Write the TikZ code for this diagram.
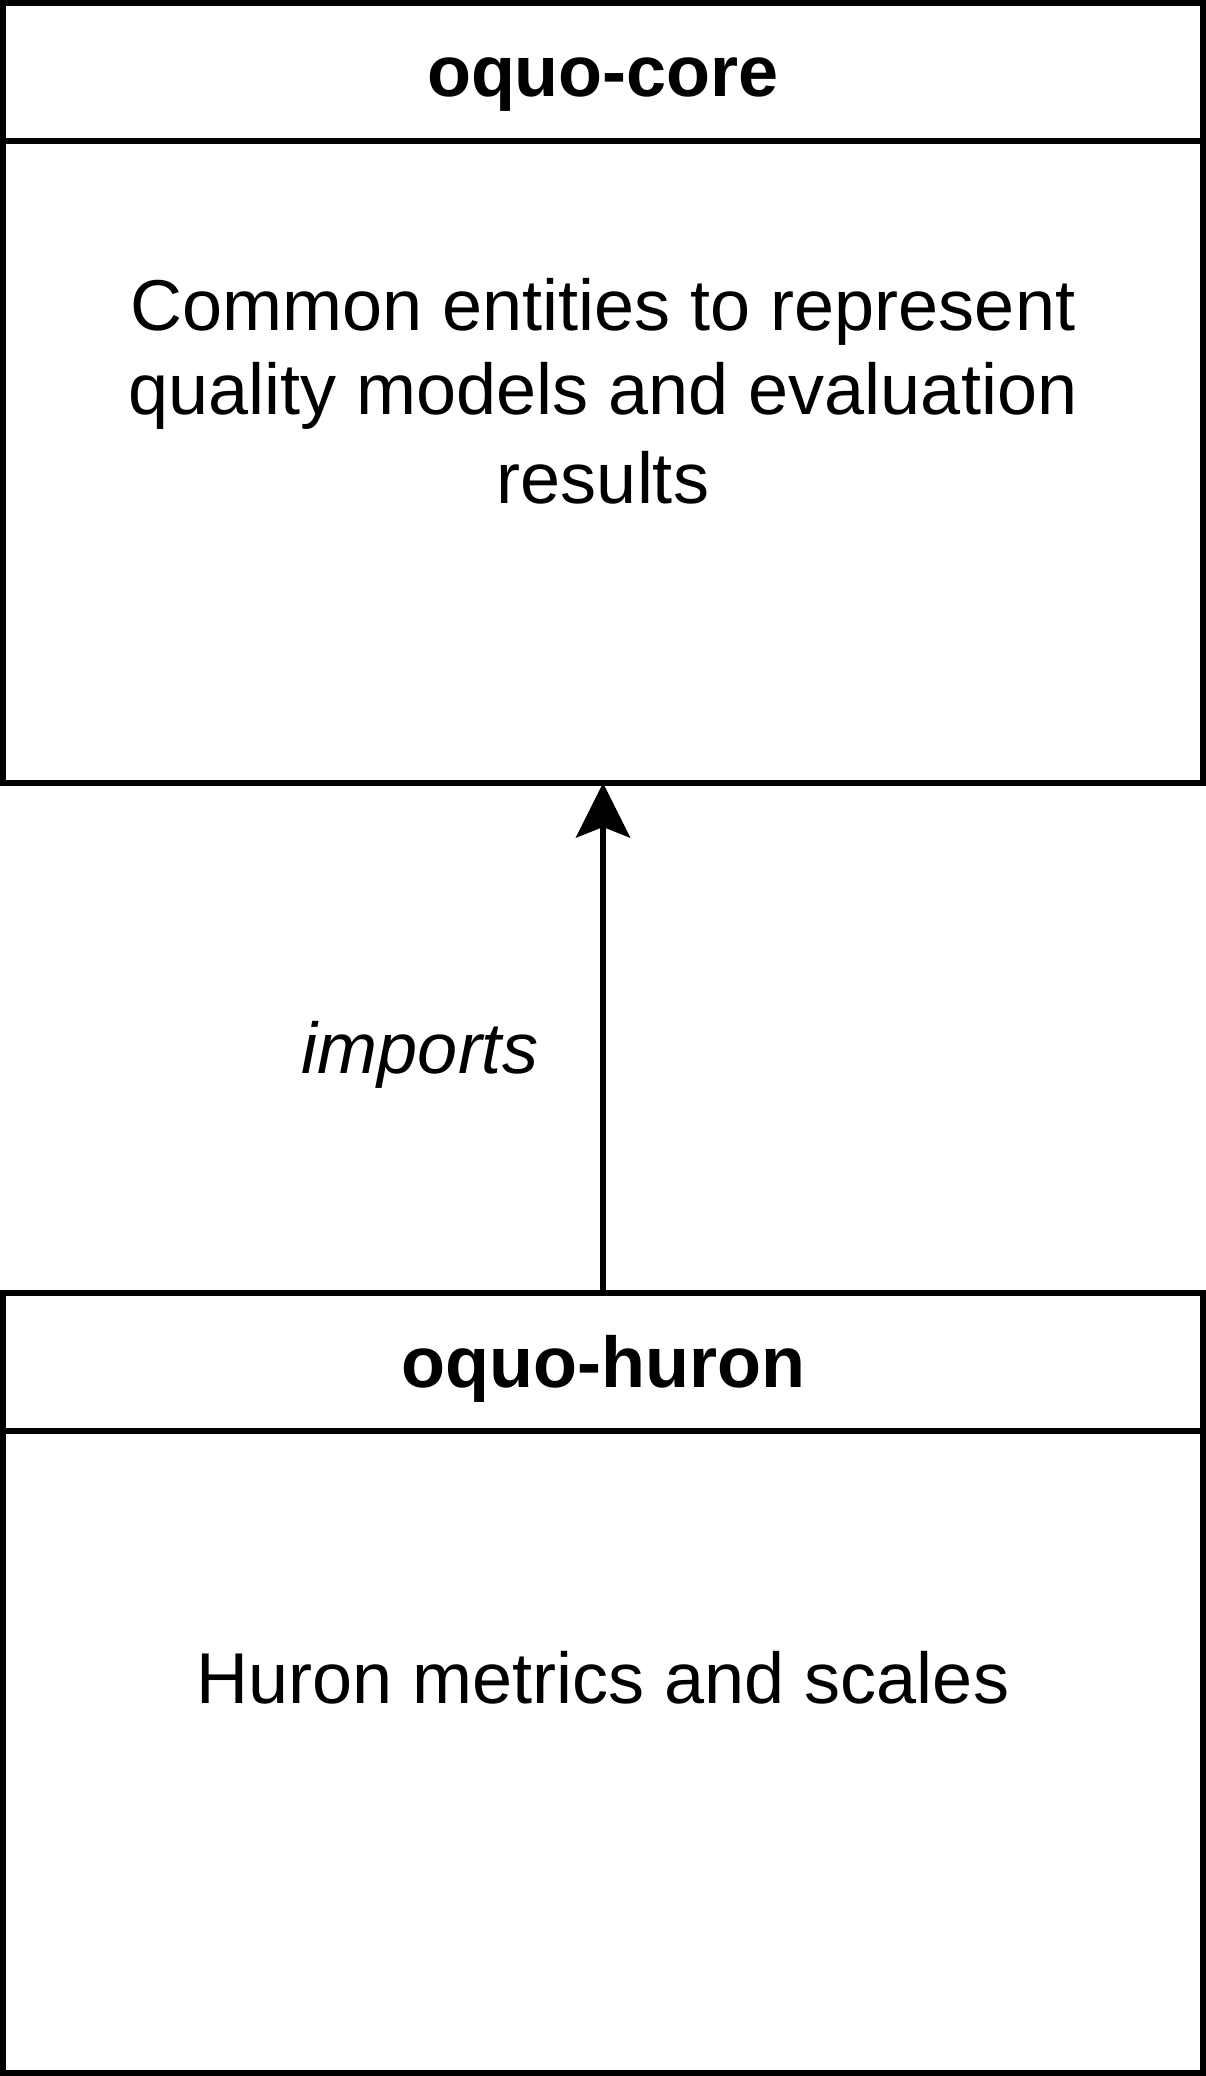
\documentclass[tikz,border=0pt]{standalone}
\usepackage{fontspec}
\setmainfont{Liberation Sans}
\usetikzlibrary{arrows.meta,calc}
\tikzset{
  pkgbox/.style={draw=black, line width=6pt, fill=white, rectangle, minimum width=1200pt, inner sep=0pt, outer sep=0pt},
  divider/.style={draw=black, line width=6pt},
  bigtext/.style={font=\fontsize{72}{86.4}\selectfont, inner sep=0pt, anchor=base},
  conn/.style={draw=black, line width=6pt, -{Stealth[length=55pt, width=55pt, inset=11pt, line width=0pt]}},
}
\begin{document}
\begin{tikzpicture}[x=1pt, y=-1pt]
\useasboundingbox (0,0) rectangle (1206,2076);
% boxes
\node[pkgbox, minimum height=780pt] (core) at (603,393) {};
\node[pkgbox, minimum height=780pt] (huron) at (603,1683) {};
\coordinate (cdl) at ($(core.north west)+(0,138)$);
\coordinate (cdr) at ($(core.north east)+(0,138)$);
\coordinate (hdl) at ($(huron.north west)+(0,138)$);
\coordinate (hdr) at ($(huron.north east)+(0,138)$);
\draw[divider] (cdl) -- (cdr);
\draw[divider] (hdl) -- (hdr);
% texts
\node[bigtext, font=\fontsize{72}{86.4}\selectfont\bfseries] (coretitle) at (603,97) {oquo-core};
\node[bigtext] (corel1) at (603,330) {Common entities to represent};
\node[bigtext] (corel2) at (603,414) {quality models and evaluation};
\node[bigtext] (corel3) at (603,503) {results};
\node[bigtext, font=\fontsize{72}{86.4}\selectfont\bfseries] (hurontitle) at (603,1387) {oquo-huron};
\node[bigtext] (huronbody) at (603,1703) {Huron metrics and scales};
% connector
\draw[conn] (huron.north) -- (core.south);
\node[bigtext, font=\fontsize{72}{86.4}\selectfont\itshape] (imports) at (420,1073) {imports};
\end{tikzpicture}
\end{document}
